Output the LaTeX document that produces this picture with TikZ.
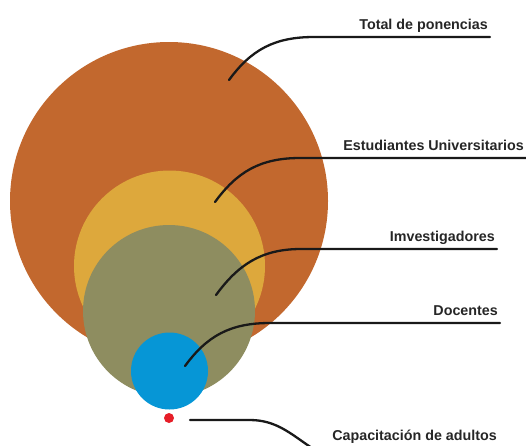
\documentclass[tikz,border=0pt]{standalone}
\usepackage{fontspec}
\setmainfont{Liberation Sans}
\usepackage{tikz}

\definecolor{ponencias}{RGB}{194,104,46}
\definecolor{estudiantes}{RGB}{221,168,60}
\definecolor{investig}{RGB}{142,141,96}
\definecolor{docentes}{RGB}{6,150,214}
\definecolor{adultos}{RGB}{230,30,40}

\begin{document}
\begin{tikzpicture}[x=1pt,y=-1pt]
       \tikzstyle{leader} = [line width=2.3pt, draw=black!90, line cap=round]
       \tikzstyle{tag} = [anchor=base east, inner sep=0pt, font=\fontsize{14.3}{17}\selectfont\bfseries, text=black!85]
       \tikzstyle{disc} = [circle, inner sep=0pt, draw=none]
       \useasboundingbox (0,0) rectangle (526,445);

       % circles, biggest first
       \node[disc, fill=ponencias, minimum size=318pt] (total) at (169,201) {};
       \node[disc, fill=estudiantes, minimum size=191pt] (univ) at (169.5,266) {};
       \node[disc, fill=investig, minimum size=172pt] (imv) at (169,311) {};
       \node[disc, fill=docentes, minimum size=77pt] (doc) at (169.5,371) {};
       \node[disc, fill=adultos, minimum size=10pt] (adul) at (169,418) {};

        \foreach \i/\tx/\ty/\ky/\ex/\txt in {total/229/80/37/490/Total de ponencias,
                 univ/215/202/158/526/Estudiantes Universitarios,
                 imv/216/295/249/497/Imvestigadores,
                 doc/185/366/323/500/Docentes}
        {
          \coordinate (\i-tip) at (\tx,\ty);
          \coordinate (\i-knee) at (\tx+85,\ky);
          \coordinate (\i-end) at (\ex,\ky);
          \node[tag] (\i-label) at (\ex-2,\ky-8) {\txt};
          \draw [leader] (\i-tip) .. controls +(22,-30) and +(-40,0) .. (\i-knee) -- (\i-end);
        }

        \coordinate (adul-start) at (190,420);
        \coordinate (adul-knee) at (250,420);
        \coordinate (adul-end) at (315,450);
        \node[tag] (adul-label) at (497,440) {Capacitación de adultos};
        \draw [leader] (adul-start) -- (adul-knee) .. controls +(28,0) and +(-22,-14) .. (adul-end);

   \end{tikzpicture}
\end{document}
